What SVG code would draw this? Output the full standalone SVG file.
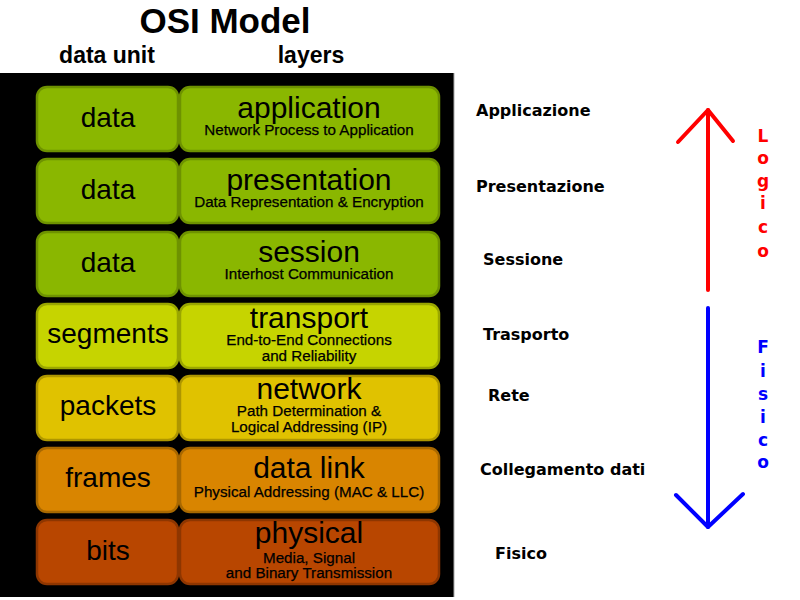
<svg xmlns="http://www.w3.org/2000/svg" width="800" height="600" viewBox="0 0 800 600">
<style>
.t{font-family:"Liberation Sans",Arial,sans-serif;fill:#000;text-anchor:middle}
.title{font-weight:bold;font-size:35px}
.hdr{font-weight:bold;font-size:23px}
.unit{font-size:28px}
.name{font-size:30px}
.sub{font-size:15.2px;stroke:#000;stroke-width:0.25px}
.it{font-family:"DejaVu Sans",Verdana,sans-serif;font-weight:bold;font-size:16px;fill:#000}
.lg{font-family:"DejaVu Sans",Verdana,sans-serif;font-weight:bold;font-size:17px;text-anchor:middle}
.box{stroke-width:2.5}
.g{fill:#8ab700;stroke:#6e9200}
.y1{fill:#c6d400;stroke:#9aa600}
.y2{fill:#e0c200;stroke:#ae9600}
.o{fill:#d98500;stroke:#a86800}
.r{fill:#b84600;stroke:#8e3600}
</style>
<rect x="0" y="0" width="800" height="600" fill="#fff"/>
<rect x="0" y="73" width="454" height="524" fill="#000"/>
<line x1="454" y1="73" x2="454" y2="597" stroke="#aaa" stroke-width="1"/>
<text class="t title" x="225" y="33">OSI Model</text>
<text class="t hdr" x="107" y="63">data unit</text>
<text class="t hdr" x="311" y="63">layers</text>

<g id="application">
<rect class="box g" x="37" y="87" width="141" height="64" rx="10"/>
<rect class="box g" x="180" y="87" width="259" height="64" rx="10"/>
<text class="t unit" x="108" y="127">data</text>
<text class="t name" x="309" y="118">application</text>
<text class="t sub" x="309" y="135">Network Process to Application</text>
</g>
<g id="presentation">
<rect class="box g" x="37" y="159" width="141" height="64" rx="10"/>
<rect class="box g" x="180" y="159" width="259" height="64" rx="10"/>
<text class="t unit" x="108" y="199">data</text>
<text class="t name" x="309" y="190">presentation</text>
<text class="t sub" x="309" y="207">Data Representation &amp; Encryption</text>
</g>
<g id="session">
<rect class="box g" x="37" y="232" width="141" height="64" rx="10"/>
<rect class="box g" x="180" y="232" width="259" height="64" rx="10"/>
<text class="t unit" x="108" y="272">data</text>
<text class="t name" x="309" y="262">session</text>
<text class="t sub" x="309" y="279">Interhost Communication</text>
</g>
<g id="transport">
<rect class="box y1" x="37" y="304" width="141" height="64" rx="10"/>
<rect class="box y1" x="180" y="304" width="259" height="64" rx="10"/>
<text class="t unit" x="108" y="343">segments</text>
<text class="t name" x="309" y="328">transport</text>
<text class="t sub" x="309" y="345">End-to-End Connections</text>
<text class="t sub" x="309" y="361">and Reliability</text>
</g>
<g id="network">
<rect class="box y2" x="37" y="376" width="141" height="64" rx="10"/>
<rect class="box y2" x="180" y="376" width="259" height="64" rx="10"/>
<text class="t unit" x="108" y="415">packets</text>
<text class="t name" x="309" y="399">network</text>
<text class="t sub" x="309" y="416">Path Determination &amp;</text>
<text class="t sub" x="309" y="432">Logical Addressing (IP)</text>
</g>
<g id="datalink">
<rect class="box o" x="37" y="448" width="141" height="64" rx="10"/>
<rect class="box o" x="180" y="448" width="259" height="64" rx="10"/>
<text class="t unit" x="108" y="487">frames</text>
<text class="t name" x="309" y="478">data link</text>
<text class="t sub" x="309" y="497">Physical Addressing (MAC &amp; LLC)</text>
</g>
<g id="physical">
<rect class="box r" x="37" y="520" width="141" height="64" rx="10"/>
<rect class="box r" x="180" y="520" width="259" height="64" rx="10"/>
<text class="t unit" x="108" y="560">bits</text>
<text class="t name" x="309" y="543">physical</text>
<text class="t sub" x="309" y="563">Media, Signal</text>
<text class="t sub" x="309" y="578">and Binary Transmission</text>
</g>

<g id="italian-labels">
<text class="it" x="476" y="116">Applicazione</text>
<text class="it" x="476" y="192">Presentazione</text>
<text class="it" x="483" y="265">Sessione</text>
<text class="it" x="483" y="340">Trasporto</text>
<text class="it" x="488" y="401">Rete</text>
<text class="it" x="480" y="475">Collegamento dati</text>
<text class="it" x="495" y="559">Fisico</text>
</g>

<g id="connectors" fill="none" stroke-width="4" stroke-linecap="round" stroke-linejoin="round">
<g id="logico-arrow" stroke="#ff0000">
<line x1="708" y1="290" x2="708" y2="110"/>
<polyline points="678,142 708,110 733,141"/>
</g>
<g id="fisico-arrow" stroke="#0000ff">
<line x1="708" y1="308" x2="708" y2="527"/>
<polyline points="676,495 708,527 743,494"/>
</g>
</g>

<g id="logico-label" fill="#ff0000">
<text class="lg" x="763" y="142">L</text>
<text class="lg" x="763" y="164">o</text>
<text class="lg" x="763" y="187">g</text>
<text class="lg" x="763" y="209">i</text>
<text class="lg" x="763" y="233">c</text>
<text class="lg" x="763" y="257">o</text>
</g>
<g id="fisico-label" fill="#0000ff">
<text class="lg" x="763" y="353">F</text>
<text class="lg" x="763" y="377">i</text>
<text class="lg" x="763" y="400">s</text>
<text class="lg" x="763" y="423">i</text>
<text class="lg" x="763" y="446">c</text>
<text class="lg" x="763" y="468">o</text>
</g>
</svg>
